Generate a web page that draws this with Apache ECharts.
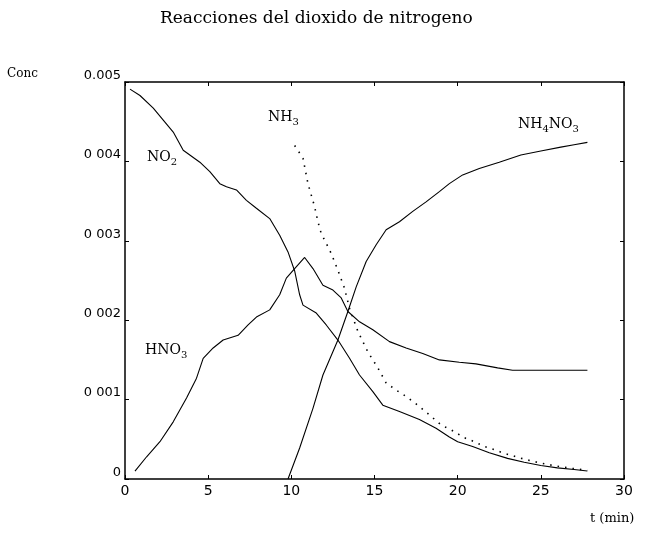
<!DOCTYPE html>
<html>
<head>
<meta charset="utf-8">
<script src="https://cdn.jsdelivr.net/npm/echarts@6/dist/echarts.min.js"></script>
<style>html,body{margin:0;padding:0;background:#fff}#c{width:647px;height:534px}</style>
</head>
<body>
<div id="c"></div>
<script>
// t (min), concentration
const no2 = [[0.3,0.00491],[0.9,0.00483],[1.7,0.00467],[2.3,0.00452],[2.9,0.00437],[3.5,0.00414],[4.5,0.00399],[5.1,0.00387],[5.7,0.00372],[6.1,0.00368],[6.7,0.00364],[7.3,0.00351],[7.9,0.00341],[8.7,0.00328],[9.3,0.00307],[9.8,0.00286],[10.2,0.00262],[10.5,0.00232],[10.7,0.00219],[11.5,0.00209],[12.1,0.00194],[12.8,0.00175],[13.5,0.00152],[14.1,0.00131],[14.9,0.00110],[15.5,0.00093],[16.5,0.00085],[17.7,0.00075],[18.7,0.00064],[19.5,0.00053],[20.0,0.00047],[20.9,0.00041],[21.9,0.00033],[23.0,0.00026],[24.0,0.00021],[25.0,0.00017],[26.0,0.00014],[27.0,0.00012],[27.8,0.00010]];
const hno3 = [[0.6,0.00010],[1.3,0.00028],[2.1,0.00047],[2.9,0.00072],[3.7,0.00102],[4.3,0.00127],[4.7,0.00152],[5.3,0.00165],[5.9,0.00175],[6.8,0.00181],[7.4,0.00194],[7.9,0.00204],[8.7,0.00213],[9.3,0.00232],[9.7,0.00253],[10.2,0.00265],[10.8,0.00279],[11.3,0.00265],[11.9,0.00244],[12.5,0.00238],[13.0,0.00228],[13.4,0.00211],[14.1,0.00198],[14.9,0.00188],[15.9,0.00173],[16.9,0.00165],[17.9,0.00158],[18.9,0.00150],[20.1,0.00147],[21.1,0.00145],[22.4,0.00140],[23.3,0.00137],[25.0,0.00137],[27.8,0.00137]];
const nh4no3 = [[9.8,0],[10.5,0.00039],[11.3,0.00089],[11.9,0.00131],[12.8,0.00175],[13.4,0.00211],[13.9,0.00242],[14.5,0.00274],[15.1,0.00295],[15.7,0.00314],[16.5,0.00324],[17.3,0.00337],[18.1,0.00349],[18.9,0.00362],[19.5,0.00372],[20.3,0.00383],[21.3,0.00391],[22.5,0.00399],[23.8,0.00408],[25.0,0.00413],[26.2,0.00418],[27.0,0.00421],[27.8,0.00424]];
const nh3 = [[10.2,0.00420],[10.7,0.00404],[11.0,0.00372],[11.4,0.00343],[11.6,0.00324],[11.8,0.00309],[12.0,0.00301],[12.4,0.00284],[12.8,0.00263],[13.2,0.00240],[13.5,0.00215],[14.0,0.00186],[14.3,0.00173],[14.6,0.00160],[15.2,0.00140],[15.7,0.00121],[16.3,0.00112],[16.9,0.00104],[17.6,0.00093],[18.4,0.00079],[19.0,0.00068],[19.6,0.00062],[20.4,0.00052],[21.0,0.00047],[21.6,0.00041],[22.2,0.00037],[22.7,0.00033],[24.0,0.00025],[25.0,0.00020],[26.0,0.00016],[27.0,0.00013],[27.8,0.00011]];
const yTickLabels = ['0','0 001','0 002','0 003','0 004','0.005'];
const xTickLabels = ['0','5','10','15','20','25','30'];

const chart = echarts.init(document.getElementById('c'), null, {renderer:'canvas'});
const black = '#000';
const serif = 'DejaVu Serif';
const axisLineS = {show:true, onZero:false, lineStyle:{color:black, width:1.5}};
const tickS = {show:true, inside:true, length:4, lineStyle:{color:black, width:1}};
function line(data, dashed){
  return {type:'line', data:data, showSymbol:false, symbol:'none', smooth:false, animation:false,
    lineStyle:{color:black, width: dashed?1.6:1.1, type: dashed?[1.5,6]:'solid'}, silent:true};
}
const rich = {
  a:{fontFamily:serif, fontSize:14, lineHeight:14, verticalAlign:'top', color:black},
  s:{fontFamily:serif, fontSize:10, lineHeight:10, padding:[7,0,0,0], verticalAlign:'top', color:black}
};
function chem(txt, x, y){
  return {type:'text', left:x, top:y, style:{text:txt, rich:rich, fill:black}};
}
chart.setOption({
  animation:false,
  backgroundColor:'#fff',
  title:{text:'Reacciones del dioxido de nitrogeno', left:155, top:5,
    textStyle:{fontFamily:serif, fontSize:17, fontWeight:'normal', color:black}},
  grid:{left:125, right:23, top:82, bottom:55, show:false},
  xAxis:[
    {type:'value', min:0, max:30, interval:5, position:'bottom', axisLine:axisLineS, axisTick:tickS,
      splitLine:{show:false},
      axisLabel:{color:black, fontFamily:'DejaVu Sans', fontSize:14, margin:5,
        formatter:(v)=>xTickLabels[Math.round(v/5)]}},
    {type:'value', min:0, max:30, interval:5, position:'top', axisLine:axisLineS, axisTick:tickS,
      splitLine:{show:false}, axisLabel:{show:false}}
  ],
  yAxis:[
    {type:'value', min:0, max:0.005, interval:0.001, position:'left', axisLine:axisLineS, axisTick:tickS,
      splitLine:{show:false},
      axisLabel:{color:black, fontFamily:'DejaVu Sans', fontSize:13, margin:4, verticalAlign:'bottom',
        formatter:(v)=>yTickLabels[Math.round(v/0.001)]}},
    {type:'value', min:0, max:0.005, interval:0.001, position:'right', axisLine:axisLineS, axisTick:tickS,
      splitLine:{show:false}, axisLabel:{show:false}}
  ],
  series:[line(no2,false), line(hno3,false), line(nh4no3,false), line(nh3,true)],
  graphic:[
    {type:'text', left:7, top:68, style:{text:'Conc', font:'12px "DejaVu Serif"', fill:black}},
    {type:'text', left:590, top:512, style:{text:'t (min)', font:'13px "DejaVu Serif"', fill:black}},
    chem('{a|NO}{s|2}', 147, 150),
    chem('{a|HNO}{s|3}', 145, 343),
    chem('{a|NH}{s|3}', 268, 110),
    chem('{a|NH}{s|4}{a|NO}{s|3}', 518, 117)
  ]
});
</script>
</body>
</html>
